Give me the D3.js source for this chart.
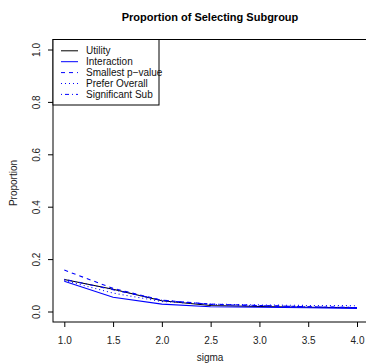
<!DOCTYPE html>
<html><head><meta charset="utf-8">
<script src="https://cdn.jsdelivr.net/npm/d3@7"></script>
<style>body{margin:0;background:#fff;}svg{display:block;font-family:"Liberation Sans",Arial,sans-serif;}</style>
</head><body>
<svg id="c" width="366" height="364"></svg>
<script>
const sigma = [1, 1.5, 2, 2.5, 3, 3.5, 4];
const utility = [0.124, 0.087, 0.043, 0.025, 0.021, 0.018, 0.016];
const interaction = [0.117, 0.056, 0.030, 0.020, 0.018, 0.016, 0.014];
const smallestP = [0.160, 0.090, 0.045, 0.030, 0.025, 0.020, 0.017];
const preferOverall = [0.120, 0.072, 0.040, 0.030, 0.027, 0.025, 0.024];
const significantSub = [0.125, 0.085, 0.045, 0.029, 0.024, 0.020, 0.017];
const seriesNames = ["Utility", "Interaction", "Smallest p\u2212value", "Prefer Overall", "Significant Sub"];
const xTicks = [1.0, 1.5, 2.0, 2.5, 3.0, 3.5, 4.0];
const yTicks = [0.0, 0.2, 0.4, 0.6, 0.8, 1.0];

const series = [
  {name: seriesNames[0], values: utility, color: "#000000", dash: null},
  {name: seriesNames[1], values: interaction, color: "#0000ff", dash: null},
  {name: seriesNames[2], values: smallestP, color: "#0000ff", dash: "4,4"},
  {name: seriesNames[3], values: preferOverall, color: "#0000ff", dash: "1,3"},
  {name: seriesNames[4], values: significantSub, color: "#0000ff", dash: "1,3,4,3"}
];

const svg = d3.select("#c");
const x = d3.scaleLinear().domain([1, 4]).range([64.3, 357]);
const y = d3.scaleLinear().domain([0, 1]).range([312, 50]);
const L = 53, T = 39.5, R = 367, B = 322;

// box
svg.append("rect").attr("x", L).attr("y", T).attr("width", R - L).attr("height", B - T)
  .attr("fill", "none").attr("stroke", "#000").attr("stroke-width", 1);

// x axis
const xa = svg.append("g").attr("transform", `translate(0,${B})`)
  .call(d3.axisBottom(x).tickValues(xTicks).tickFormat(d3.format(".1f")).tickSize(5).tickPadding(10).tickSizeOuter(0));
xa.select(".domain").remove();
xa.selectAll("text").attr("font-size", 10).attr("fill", "#222").attr("font-family", "Liberation Sans, Arial, sans-serif");

// y axis
const ya = svg.append("g").attr("transform", `translate(${L},0)`)
  .call(d3.axisLeft(y).tickValues(yTicks).tickFormat(d3.format(".1f")).tickSize(5).tickSizeOuter(0));
ya.select(".domain").remove();
ya.selectAll("text").attr("font-size", 10).attr("fill", "#222")
  .attr("font-family", "Liberation Sans, Arial, sans-serif")
  .attr("text-anchor", "middle").attr("x", 0).attr("dy", 0)
  .attr("transform", d => `translate(-13,${y(d)}) rotate(-90)`)
  .attr("y", 0);
ya.selectAll(".tick").attr("transform", null);
ya.selectAll(".tick line").attr("transform", d => `translate(0,${y(d)})`);

// lines
const line = d3.line().x((d, i) => x(sigma[i])).y(d => y(d));
series.forEach(s => {
  svg.append("path").datum(s.values).attr("d", line)
    .attr("fill", "none").attr("stroke", s.color).attr("stroke-width", 1.1)
    .attr("stroke-dasharray", s.dash);
});

// legend
const lg = svg.append("g");
lg.append("rect").attr("x", L).attr("y", T).attr("width", 106).attr("height", 65.5)
  .attr("fill", "#fff").attr("stroke", "#000").attr("stroke-width", 1);
series.forEach((s, i) => {
  const yy = 50.8 + i * 10.9;
  lg.append("line").attr("x1", 61).attr("x2", 78).attr("y1", yy).attr("y2", yy)
    .attr("stroke", s.color).attr("stroke-width", 1).attr("stroke-dasharray", s.dash);
  lg.append("text").attr("x", 86).attr("y", yy + 3.6).attr("font-size", 10).attr("fill", "#111").text(s.name);
});

// titles
svg.append("text").attr("x", 210).attr("y", 21).attr("text-anchor", "middle")
  .attr("font-size", 11).attr("font-weight", "bold").text("Proportion of Selecting Subgroup");
svg.append("text").attr("x", 210).attr("y", 361).attr("text-anchor", "middle")
  .attr("font-size", 10).attr("fill", "#222").text("sigma");
svg.append("text").attr("transform", "translate(17,183) rotate(-90)").attr("text-anchor", "middle")
  .attr("font-size", 10).attr("fill", "#222").text("Proportion");
</script>
</body></html>
